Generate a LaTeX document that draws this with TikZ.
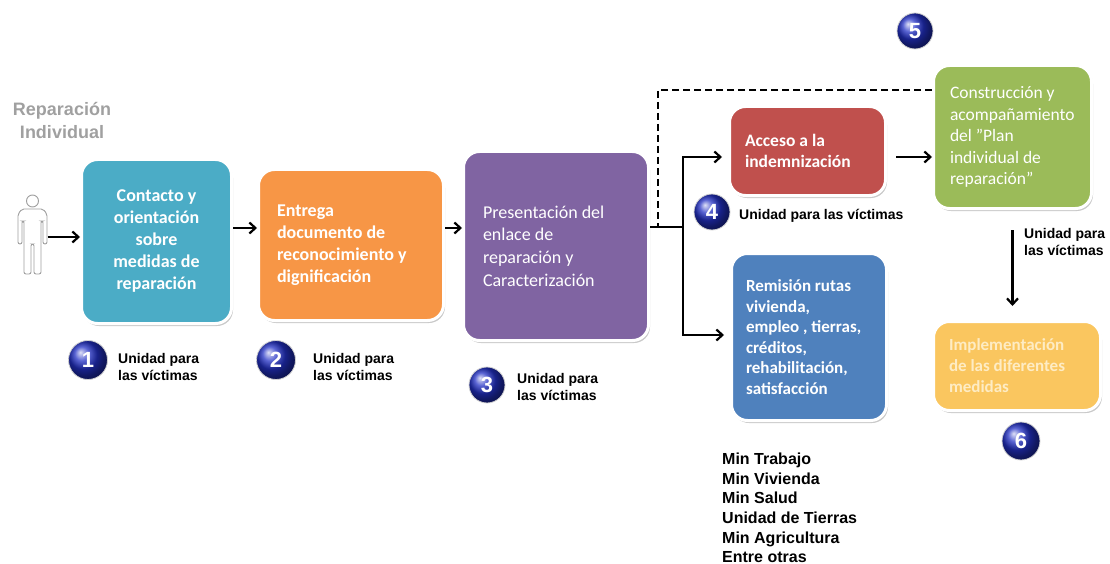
\documentclass[tikz,border=0pt]{standalone}
\usepackage{fontspec}
\setmainfont{Carlito}
\newfontfamily\arial{Liberation Sans}
\usetikzlibrary{arrows.meta,shadows,shadings}
\definecolor{cteal}{HTML}{4BACC6}
\definecolor{corange}{HTML}{F79646}
\definecolor{cpurple}{HTML}{8064A2}
\definecolor{cred}{HTML}{C0504D}
\definecolor{cblue}{HTML}{4F81BD}
\definecolor{cgreen}{HTML}{9BBB59}
\definecolor{cyellow}{RGB}{250,198,95}
\definecolor{cyeltext}{RGB}{254,236,196}
\definecolor{numblue}{RGB}{34,48,196}
\definecolor{titlegray}{RGB}{160,160,160}
\begin{document}
\begin{tikzpicture}[x=1pt,y=-1pt,
  box/.style={rounded corners=16pt, draw=white, line width=3pt,
    drop shadow={shadow xshift=1.5pt, shadow yshift=-2.5pt, opacity=0.35, fill=black!60},
    text=white, inner ysep=0pt, align=flush left},
  bfont/.style={font=\bfseries\fontsize{18}{22}\selectfont},
  rfont/.style={font=\mdseries\fontsize{18}{22.7}\selectfont},
  arr/.style={-{Straight Barb[length=6pt,width=11pt]}, line width=2.2pt, black},
  num/.style={circle, inner sep=0pt, minimum size=36pt, ball color=numblue,
    draw=gray!35, line width=0.8pt, text=white,
    font=\arial\bfseries\fontsize{22}{22}\selectfont},
  lab/.style={font=\arial\bfseries\fontsize{14}{17}\selectfont, align=left,
    inner sep=0pt, anchor=west}
]
\useasboundingbox (0,0) rectangle (1110,564);

% title
\node[font=\arial\bfseries\fontsize{18}{23}\selectfont, text=titlegray, align=center] (title) at (62,120) {Reparación\\Individual};

% person icon
\node[minimum width=30pt, minimum height=80pt, inner sep=0pt] (person) at (32.5,237) {};
\draw[gray!75, line width=0.9pt, fill=white]
  (32.5,201) circle[radius=6];
\draw[gray!75, line width=0.9pt, fill=white, rounded corners=2pt]
  (29,209) -- (22,209) -- (18,214) -- (18,244) -- (22,244) -- (22,221) -- (24,221)
  -- (24,274) -- (31,274) -- (31,244) -- (34,244) -- (34,274) -- (41,274)
  -- (41,221) -- (43,221) -- (43,244) -- (47,244) -- (47,214) -- (43,209) -- cycle;

% boxes
\node[box, bfont, fill=cteal, align=flush center, minimum width=150pt, minimum height=164pt,
  text width=134pt, inner xsep=8pt] (box1) at (156.5,241.5)
  {Contacto y\\orientación\\sobre\\medidas de\\reparación};
\node[box, bfont, fill=corange, minimum width=185pt, minimum height=151pt,
  text width=148pt, inner xsep=18.5pt] (box2) at (351,245)
  {Entrega\\documento de\\reconocimiento y\\dignificación};
\node[box, rfont, fill=cpurple, minimum width=185pt, minimum height=189pt,
  text width=146pt, inner xsep=19.5pt] (box3) at (556,246)
  {Presentación del\\enlace de\\reparación y\\Caracterización};
\node[box, font=\bfseries\fontsize{17.5}{20.5}\selectfont, fill=cred, minimum width=156pt, minimum height=89pt,
  text width=125pt, inner xsep=15.5pt] (red) at (807.5,151)
  {Acceso a la\\indemnización};
\node[box, font=\bfseries\fontsize{17}{20.5}\selectfont, fill=cblue, minimum width=155pt, minimum height=167pt,
  text width=126pt, inner xsep=14.5pt] (blue) at (809,337)
  {Remisión rutas\\vivienda,\\empleo , tierras,\\créditos,\\rehabilitación,\\satisfacción};
\node[box, font=\mdseries\fontsize{17.5}{21.5}\selectfont, fill=cgreen, minimum width=158pt, minimum height=143pt,
  text width=125pt, inner xsep=16.5pt] (green) at (1012.5,137)
  {Construcción y\\acompañamiento\\del "Plan\\individual de\\reparación"};
\node[box, font=\bfseries\fontsize{17}{21}\selectfont, fill=cyellow, text=cyeltext, minimum width=167pt, minimum height=89pt,
  text width=136pt, inner xsep=15.5pt] (yellow) at (1017,366)
  {Implementación\\de las diferentes\\medidas};

% numbered circles
\node[num, minimum size=39pt] (c1) at (88,360) {1};
\node[num, minimum size=39pt] (c2) at (276,360) {2};
\node[num] (c3) at (487,385) {3};
\node[num] (c4) at (712,212) {4};
\node[num] (c5) at (915,31) {5};
\node[num, minimum size=38pt] (c6) at (1021,441) {6};

% labels
\node[lab] (l1) at (118,367) {Unidad para\\las víctimas};
\node[lab] (l2) at (313,367) {Unidad para\\las víctimas};
\node[lab] (l3) at (517,387) {Unidad para\\las víctimas};
\node[lab] (l4) at (739,216) {Unidad para las víctimas};
\node[lab] (l5) at (1024,242) {Unidad para\\las víctimas};
\node[font=\arial\bfseries\fontsize{16}{19.6}\selectfont, align=left, inner sep=0pt, anchor=west] (list) at (722,508)
  {Min Trabajo\\Min Vivienda\\Min Salud\\Unidad de Tierras\\Min Agricultura\\Entre otras};

% connectors
\coordinate (ya) at (0,228);
\coordinate (jn) at (683,227);
\coordinate (ja) at (683,157);
\coordinate (jb) at (683,335);
\coordinate (dc) at (658,90);
\coordinate (dj) at (658,227);

\draw[arr] (person.east) -- (person.east -| box1.west);
\draw[arr] (box1.east |- ya) -- (box2.west |- ya);
\draw[arr] (box2.east |- ya) -- (box3.west |- ya);
\draw[line width=2.2pt] (box3.east |- jn) -- (jn);
\draw[arr, shorten >=6pt] (jn) -- (ja) -- (ja -| red.west);
\draw[arr, shorten >=6pt] (jn) -- (jb) -- (jb -| blue.west);
\draw[arr, shorten <=9pt] (ja -| red.east) -- (ja -| green.west);
\draw[line width=2.6pt, dash pattern=on 7pt off 4pt] (green.west |- dc) -- (dc) -- (dj);
\draw[arr, shorten <=20pt, shorten >=14pt] (green.south) -- (green.south |- yellow.north);
\end{tikzpicture}
\end{document}
